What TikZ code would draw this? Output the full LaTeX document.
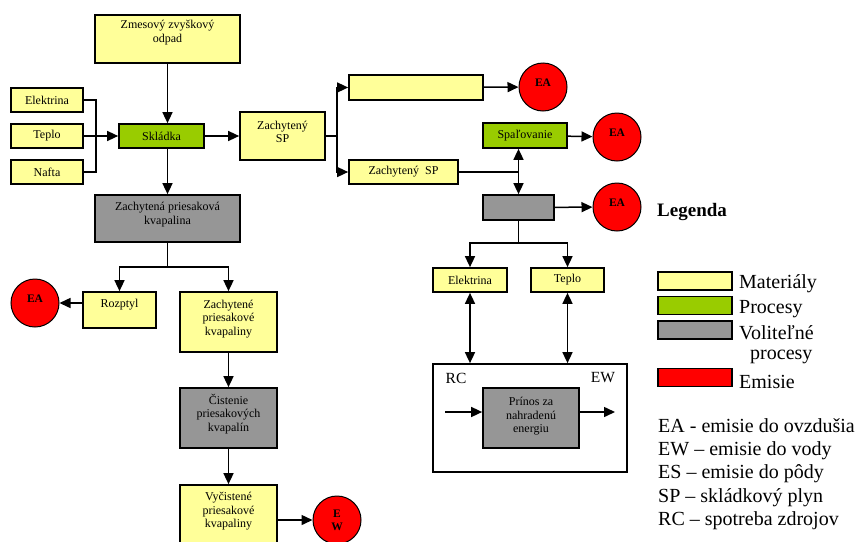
\documentclass[tikz,border=0pt]{standalone}
\usepackage{fontspec}
\setmainfont{Liberation Serif}
\usepackage{tikz}
\usetikzlibrary{arrows.meta}
\usetikzlibrary{calc}

\definecolor{matyellow}{HTML}{FFFF99}
\definecolor{procgreen}{HTML}{99CC00}
\definecolor{optgray}{HTML}{969696}
\definecolor{emisred}{HTML}{FF0000}

\tikzset{
	sz/.style 2 args={minimum width=#1pt, minimum height=#2pt},
	up/.style={text depth=#1pt},
	box/.style={draw, line width=1.7pt, inner sep=1pt, align=center, font=\fontsize{12}{13.5}\selectfont},
	mat/.style={box, fill=matyellow},
	proc/.style={box, fill=procgreen},
	opt/.style={box, fill=optgray},
	emis/.style={circle, draw, line width=1pt, fill=emisred, minimum size=48pt, inner sep=0pt, align=center, font=\fontsize{11.5}{13}\selectfont\bfseries},
	ea/.style={emis, text depth=8pt},
	legbox/.style={draw, line width=1.3pt, sz={74}{18}},
	legtext/.style={anchor=west, inner sep=0pt, font=\fontsize{20}{23}\selectfont},
	conn/.style={line width=1.5pt},
	arr/.style={conn, -{Triangle[length=11pt,width=10pt]}},
	arrb/.style={conn, {Triangle[length=11pt,width=10pt]}-{Triangle[length=11pt,width=10pt]}},
}

\begin{document}
\begin{tikzpicture}[x=1pt, y=-1pt]
\useasboundingbox (0,0) rectangle (861,541);

% left part
\node[mat, sz={145}{48}, up=15] (zmes) at (167.5,39) {Zmesový zvyškový\\odpad};
\node[mat, sz={72}{24}] (el1) at (47,100) {Elektrina};
\node[mat, sz={72}{24}] (tep1) at (47,136) {Teplo};
\node[mat, sz={72}{24}] (naf) at (47,172) {Nafta};
\node[proc, sz={85}{24}] (skl) at (161.5,136) {Skládka};
\node[mat, sz={85}{48}, up=8] (zsp1) at (282.5,136) {Zachytený\\SP};
\node[opt, sz={145}{47}, up=10] (zkv) at (167.5,218.5) {Zachytená priesaková\\kvapalina};
\node[mat, sz={73}{36}, up=12.5] (rozp) at (119.5,310) {Rozptyl};
\node[mat, sz={97}{60}, up=8.5] (zpk) at (228.5,322) {Zachytené\\priesakové\\kvapaliny};
\node[opt, sz={97}{60}, up=10.5] (cist) at (228.5,418) {Čistenie\\priesakových\\kvapalín};
\node[mat, sz={97}{60}, up=9.5] (vyc) at (228.5,515) {Vyčistené\\priesakové\\kvapaliny};
\node[ea] (ea4) at (35,303) {EA};
\node[emis] (ew) at (337,520) {E\\W};

% right part
\node[mat, sz={134}{25}] (prazd) at (416,87.5) {};
\node[proc, sz={84}{25}] (spal) at (525,135.5) {Spaľovanie};
\node[mat, sz={109}{24}] (zsp2) at (403.5,172) {Zachytený~~SP};
\node[opt, sz={71}{25}] (opt1) at (518.5,207.5) {};
\node[ea] (ea1) at (543,87) {EA};
\node[ea] (ea2) at (617,137) {EA};
\node[ea] (ea3) at (617,207) {EA};
\node[mat, sz={74}{24}] (el2) at (470,280) {Elektrina};
\node[mat, sz={73}{24}] (tep2) at (567.5,280) {Teplo};
\node[draw, line width=1.7pt, sz={194}{108}] (rcbox) at (530,418) {};
\node[font=\fontsize{15.5}{18}\selectfont] (rc) at (456,378) {RC};
\node[font=\fontsize{15.5}{18}\selectfont] (ewl) at (603,378) {EW};
\node[opt, sz={96}{60}, up=6] (prin) at (531,418) {Prínos za\\nahradenú\\energiu};
\coordinate (rcin) at (445,412);
\coordinate (ewout) at (615,412);

% connectors
\coordinate (vst) at (96,136);
\draw[conn] (el1.east) -| (vst) |- (naf.east);
\draw[arr] (tep1.east) -- (skl.west);
\draw[arr] (zmes.south) -- (zmes.south |- skl.north);
\draw[arr] (skl.south -| zkv.north) -- (zkv.north);
\draw[arr] (skl) -- (zsp1);
\coordinate (rozv) at (337,136);
\draw[conn] (zsp1.east) -- (rozv);
\draw[arr] (rozv) |- (prazd.west);
\draw[arr] (rozv) |- (zsp2.west);
\draw[arr] (prazd) -- (ea1);
\draw[arr] (spal) -- (ea2);
\draw[arr] (opt1) -- (ea3);
\draw[conn] (zsp2.east) -- (zsp2.east -| opt1.north);
\draw[arrb] (opt1.north |- spal.south) -- (opt1.north);
\coordinate (rozv2) at (518.5,243);
\draw[conn] (opt1.south) -- (rozv2);
\draw[arr] (rozv2) -| (el2.north);
\draw[arr] (rozv2) -| (tep2.north);
\draw[arrb] (el2.south) -- (el2.south |- rcbox.north);
\draw[arrb] (tep2.south) -- (tep2.south |- rcbox.north);
\draw[arr] (rcin) -- (rcin -| prin.west);
\draw[arr] (prin.east |- rcin) -- (ewout);
\coordinate (rozv3) at (167.5,267);
\draw[conn] (zkv.south) -- (rozv3);
\draw[arr] (rozv3) -| (rozp.north);
\draw[arr] (rozv3) -| (zpk.north);
\draw[arr] (rozp.west |- ea4) -- (ea4);
\draw[arr] (zpk) -- (cist);
\draw[arr] (cist) -- (vyc);
\draw[arr] (vyc.east |- ew) -- (ew);

% legend
\node[anchor=west, inner sep=0pt, font=\fontsize{19}{22}\selectfont\bfseries] (leg) at (657,212) {Legenda};
\node[legbox, fill=matyellow] (lmat) at (695,281) {};
\node[legbox, fill=procgreen] (lproc) at (695,305.5) {};
\node[legbox, fill=optgray] (lopt) at (695,330) {};
\node[legbox, fill=emisred] (lemis) at (695,377.5) {};
\node[legtext] (tmat) at (739,284) {Materiály};
\node[legtext] (tproc) at (739,309) {Procesy};
\node[legtext] (topt) at (739,333) {Voliteľné};
\node[legtext] (topt2) at (750,357) {procesy};
\node[legtext] (temis) at (739,382) {Emisie};
\node[anchor=north west, inner sep=0pt, align=left, font=\fontsize{20}{23.3}\selectfont] (skr) at (658,418)
	{EA - emisie do ovzdušia\\EW – emisie do vody\\ES – emisie do pôdy\\SP – skládkový plyn\\RC – spotreba zdrojov};
\end{tikzpicture}
\end{document}
